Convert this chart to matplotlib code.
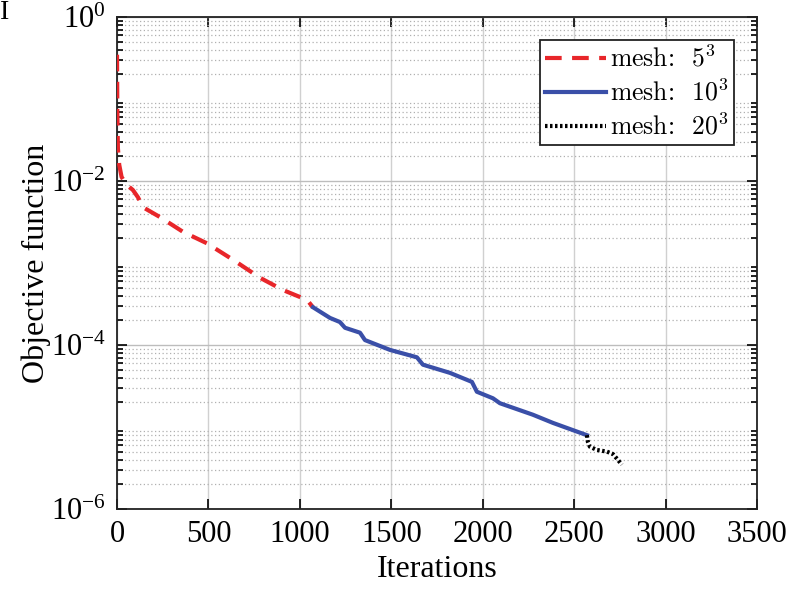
import matplotlib
matplotlib.use("Agg")
import matplotlib.pyplot as plt
import numpy as np
from matplotlib.font_manager import FontProperties
from matplotlib.ticker import LogLocator, FixedLocator, FuncFormatter, NullFormatter

plt.rcParams['font.family'] = ['Liberation Serif', 'DejaVu Serif']
plt.rcParams['mathtext.fontset'] = 'custom'
plt.rcParams['mathtext.rm'] = 'Liberation Serif'
plt.rcParams['mathtext.it'] = 'Liberation Serif:italic'

# Data (iterations, log10 of objective)
red_x = [0, 2, 5, 12, 25, 50, 87, 115, 142, 235, 361, 492, 634, 782, 908, 1039, 1072]
red_log = [-0.46, -1.2, -1.6, -1.80, -1.95, -2.04, -2.11, -2.20, -2.32, -2.44, -2.62, -2.76, -2.96, -3.18, -3.33, -3.45, -3.54]

blue_x = [1072, 1165, 1219, 1247, 1329, 1356, 1493, 1640, 1673, 1821, 1941, 1968, 2056, 2094, 2274, 2384, 2570]
blue_log = [-3.54, -3.67, -3.72, -3.79, -3.85, -3.94, -4.06, -4.15, -4.24, -4.34, -4.45, -4.57, -4.65, -4.71, -4.85, -4.95, -5.10]

black_x = [2570, 2575, 2586, 2624, 2679, 2712, 2739, 2761]
black_log = [-5.10, -5.18, -5.24, -5.28, -5.30, -5.33, -5.40, -5.46]

labels = ['mesh:  $5^3$', 'mesh:  $10^3$', 'mesh:  $20^3$']
xticks = [0, 500, 1000, 1500, 2000, 2500, 3000, 3500]
yticks = [1e-6, 1e-4, 1e-2, 1e0]

fig = plt.figure(figsize=(7.91, 5.90), dpi=100)
ax = fig.add_axes([117/791, 1 - 509/590, 640/791, 492/590])

red_y = 10 ** np.array(red_log)
blue_y = 10 ** np.array(blue_log)
black_y = 10 ** np.array(black_log)

ax.plot(red_x, red_y, color='#e8262a', lw=3.0, ls=(0, (4, 2.5)), label=labels[0], zorder=3)
ax.plot(blue_x, blue_y, color='#3a4fa8', lw=3.0, ls='-', label=labels[1], zorder=3)
ax.plot(black_x, black_y, color='black', lw=3.0, ls=(0, (0.6, 0.6)), label=labels[2], zorder=4)

ax.set_yscale('log')
ax.set_xlim(0, 3500)
ax.set_ylim(1e-6, 1e0)
ax.xaxis.set_major_locator(FixedLocator(xticks))
ax.yaxis.set_major_locator(FixedLocator(yticks))
ax.yaxis.set_minor_locator(LogLocator(base=10, subs=np.arange(2, 10), numticks=20))
ax.yaxis.set_minor_formatter(NullFormatter())
ax.yaxis.set_major_formatter(FuncFormatter(lambda v, p: r'$10^{%d}$' % int(round(np.log10(v)))))

ax.grid(True, which='major', axis='x', color='#d0d0d0', lw=1.0, ls='-')
ax.grid(True, which='major', axis='y', color='#bdbdbd', lw=1.0, ls='-')
ax.grid(True, which='minor', axis='y', color='#b0b0b0', lw=0.9, ls=(0, (1, 2)))
ax.set_axisbelow(True)

ax.tick_params(axis='both', which='both', direction='in', top=True, right=True,
               labelsize=22, colors='black', width=1.2)
ax.tick_params(axis='both', which='major', length=7, pad=8)
ax.tick_params(axis='y', which='minor', length=4)
for s in ax.spines.values():
    s.set_linewidth(1.3)
    s.set_color('#222222')

ax.set_xlabel('Iterations', fontsize=23, labelpad=4)
ax.set_ylabel('Objective function', fontsize=23, labelpad=0)

leg_prop = FontProperties(family='cmr10', size=18.5, math_fontfamily='cm')
leg = ax.legend(loc='upper right', prop=leg_prop, frameon=True, fancybox=False,
                edgecolor='#222222', framealpha=1, handlelength=2.4, handletextpad=0.15,
                borderpad=0.2, labelspacing=0.3, borderaxespad=0.9)
leg.get_frame().set_linewidth(1.3)

fig.text(0.0, 1.0, 'I', fontsize=20, va='top', ha='left')

fig.savefig('out.png', dpi=100)
